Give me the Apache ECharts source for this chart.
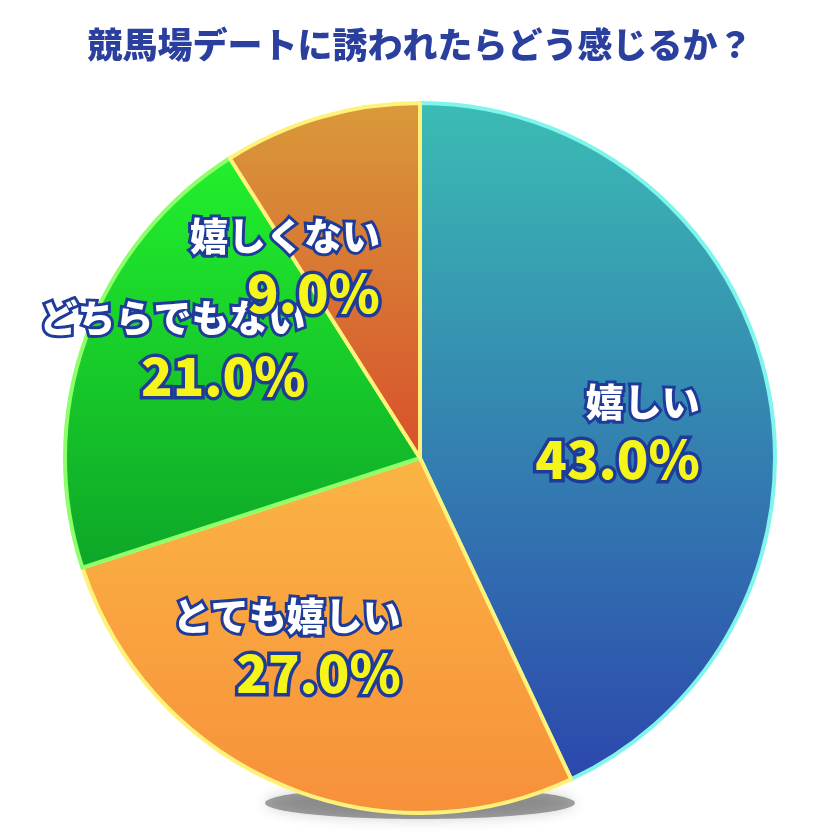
<!DOCTYPE html>
<html><head><meta charset="utf-8">
<script src="https://cdn.jsdelivr.net/npm/echarts@6/dist/echarts.min.js"></script>
<style>html,body{margin:0;background:#fff}#c{width:840px;height:840px}</style>
</head><body><div id="c"></div>
<script>
var titleText = '競馬場デートに誘われたらどう感じるか？';
var categories = ['嬉しい', 'とても嬉しい', 'どちらでもない', '嬉しくない'];
var values = [43.0, 27.0, 21.0, 9.0];
var colorStops = [
  ['#3bbcb4', '#2c47ad'],
  ['#fbb444', '#f7903a'],
  ['#22f02c', '#0da628'],
  ['#d99a3a', '#d8502c']
];
var edgeColors = ['#7ff5ec', '#fff27a', '#8cff6a', '#fff27a'];

var chart = echarts.init(document.getElementById('c'));
var data = categories.map(function (name, i) {
  return {
    name: name, value: values[i],
    itemStyle: {
      color: new echarts.graphic.LinearGradient(0, 0, 0, 1, [
        {offset: 0, color: colorStops[i][0]}, {offset: 1, color: colorStops[i][1]}
      ]),
      borderColor: edgeColors[i], borderWidth: 4
    }
  };
});
chart.setOption({
  title: {
    text: titleText, left: 'center', top: 22,
    textStyle: {fontFamily: 'Noto Sans CJK JP', fontWeight: 900, fontSize: 35, color: '#2a3f9e',
      textBorderColor: '#fff', textBorderWidth: 3}
  },
  graphic: [{
    type: 'ellipse', shape: {cx: 420, cy: 803, rx: 155, ry: 16}, z: -1,
    style: {fill: 'rgba(0,0,0,0.35)', shadowBlur: 14, shadowColor: 'rgba(0,0,0,0.5)'}
  }],
  series: [{
    type: 'pie', center: [420, 458], radius: 355, startAngle: 90, clockwise: true,
    data: data,
    label: {
      position: 'inside', fontFamily: 'Noto Sans CJK JP',
      formatter: function (p) { return '{n|' + p.name + '}\n{v|' + p.value.toFixed(1) + '%}'; },
      rich: {
        n: {fontSize: 38, fontWeight: 900, color: '#fff', textBorderColor: '#1f3b9a', textBorderWidth: 6, lineHeight: 56, align: 'right'},
        v: {fontSize: 52, fontWeight: 900, color: '#f5f51a', textBorderColor: '#1f3b9a', textBorderWidth: 7, lineHeight: 60, align: 'right'}
      }
    },
    labelLayout: function (p) {
      var off = [[20, -10], [-40, 10], [-70, -15], [-40, -15]][p.dataIndex];
      return {x: p.rect.x + p.rect.width / 2 + off[0], y: p.rect.y + p.rect.height / 2 + off[1]};
    },
    emphasis: {disabled: true}
  }]
});
</script></body></html>
